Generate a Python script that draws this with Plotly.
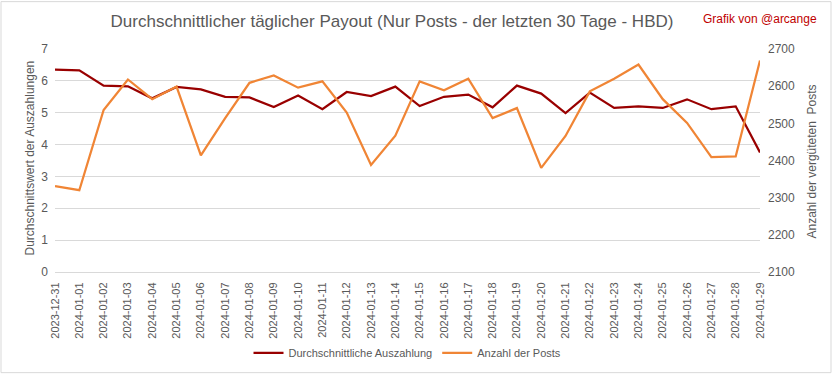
import plotly.graph_objects as go

dates = ["2023-12-31"] + [f"2024-01-{d:02d}" for d in range(1, 30)]

avg_payout = [6.35, 6.33, 5.85, 5.83, 5.45, 5.81, 5.73, 5.50, 5.48, 5.18,
              5.54, 5.11, 5.65, 5.52, 5.82, 5.21, 5.50, 5.57, 5.17, 5.85,
              5.60, 4.99, 5.63, 5.15, 5.20, 5.15, 5.42, 5.11, 5.20, 3.75]

post_count = [2331, 2320, 2536, 2618, 2565, 2599, 2414, 2514, 2609, 2629,
              2596, 2613, 2529, 2388, 2467, 2613, 2589, 2620, 2514, 2541,
              2380, 2466, 2586, 2620, 2658, 2565, 2501, 2409, 2411, 2669]

FONT = "Liberation Sans, Arial, sans-serif"
GRAY = "#595959"
GRID = "#D9D9D9"

fig = go.Figure()
fig.add_trace(go.Scatter(x=dates, y=avg_payout, mode="lines",
                         name="Durchschnittliche Auszahlung",
                         line=dict(color="#990000", width=2.25)))
fig.add_trace(go.Scatter(x=dates, y=post_count, mode="lines",
                         name="Anzahl der Posts", yaxis="y2",
                         line=dict(color="#F08535", width=2.25)))

L, R, T, B = 55, 73, 49, 104
pw, ph = 833 - L - R, 379 - T - B

def px(xp):
    return (xp - L) / pw

def py(yp):
    return (379 - B - yp) / ph

fig.update_layout(
    width=833, height=379,
    margin=dict(l=L, r=R, t=T, b=B, pad=0),
    paper_bgcolor="white", plot_bgcolor="white",
    font=dict(family=FONT, size=11, color=GRAY),
    title=dict(text="Durchschnittlicher täglicher Payout (Nur Posts - der letzten 30 Tage - HBD)",
               x=392 / 833, xanchor="center", xref="container",
               y=1 - 21 / 379, yanchor="middle", yref="container",
               font=dict(family=FONT, size=17, color=GRAY)),
    xaxis=dict(type="category", tickangle=-90, showgrid=False,
               showline=True, linecolor=GRID, linewidth=1,
               ticks="", ticklabelstandoff=5,
               tickfont=dict(size=11, color=GRAY)),
    yaxis=dict(range=[0, 7], dtick=1, showgrid=True, gridcolor=GRID,
               gridwidth=1, zeroline=False, ticks="", ticklabelstandoff=6,
               tickfont=dict(size=12, color=GRAY)),
    yaxis2=dict(range=[2100, 2700], dtick=100, overlaying="y", side="right",
                showgrid=False, zeroline=False, ticks="", ticklabelstandoff=7,
                tickfont=dict(size=12, color=GRAY)),
    showlegend=True,
    legend=dict(orientation="h", x=0.5, xanchor="center",
                y=py(357), yanchor="middle",
                font=dict(family=FONT, size=11, color=GRAY),
                itemwidth=30, bgcolor="rgba(0,0,0,0)"),
    annotations=[
        dict(text="Durchschnittswert der Auszahlungen", textangle=-90,
             xref="paper", yref="paper", x=px(30), y=py(160),
             xanchor="center", yanchor="middle", showarrow=False,
             font=dict(family=FONT, size=12, color=GRAY)),
        dict(text="Anzahl der vergüteten  Posts", textangle=-90,
             xref="paper", yref="paper", x=px(812), y=py(163),
             xanchor="center", yanchor="middle", showarrow=False,
             font=dict(family=FONT, size=12, color=GRAY)),
        dict(text="Grafik von @arcange", xref="paper", yref="paper",
             x=px(819), y=py(19), xanchor="right", yanchor="middle",
             showarrow=False,
             font=dict(family=FONT, size=12, color="#C00000")),
    ],
    shapes=[dict(type="rect", xref="paper", yref="paper",
                 x0=px(1), x1=px(831), y0=py(377), y1=py(1),
                 line=dict(color=GRID, width=1), fillcolor="rgba(0,0,0,0)",
                 layer="below")],
)

fig.write_html("out.html", config={"displayModeBar": False},
               post_script="document.body.style.margin='0';document.body.style.padding='0';")
